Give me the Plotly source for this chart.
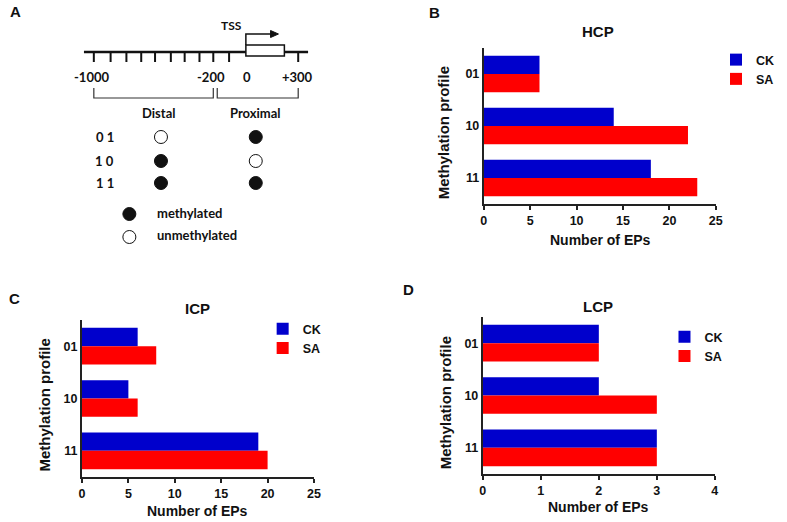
import plotly.graph_objects as go

# ---------------- data ----------------
categories = ['01', '10', '11']
hcp_ck = [6, 14, 18]
hcp_sa = [6, 22, 23]
icp_ck = [6, 5, 19]
icp_sa = [8, 6, 20]
lcp_ck = [2, 2, 3]
lcp_sa = [2, 3, 3]
ticks_25 = [0, 5, 10, 15, 20, 25]
ticks_4 = [0, 1, 2, 3, 4]
series_names = ['CK', 'SA']
series_colors = ['#0000CC', '#FF0000']

# panel A diagram content
profile_labels = ['0 1', '1 0', '1 1']
distal_state = [0, 1, 1]
proximal_state = [1, 0, 1]
position_labels = ['-1000', '-200', '0', '+300']
state_labels = ['methylated', 'unmethylated']

W, H = 787, 522
BAR_FONT = 'Liberation Sans'
DIA_FONT = 'Lato'


def px(x):
    return x / W


def py(y):
    return 1 - y / H


fig = go.Figure()

panels = [
    dict(ck=hcp_ck, sa=hcp_sa, xa='x', ya='y', leg='legend', title='HCP',
         xd=[487, 722], yd=[48, 204], rng=[0, 25], ticks=ticks_25,
         tpos=(603, 32), xt=(605, 240), yt=(447, 133), leg_pos=(787, 45, 'right')),
    dict(ck=icp_ck, sa=icp_sa, xa='x2', ya='y2', leg='legend2', title='ICP',
         xd=[80, 315], yd=[320, 477], rng=[0, 25], ticks=ticks_25,
         tpos=(197, 308), xt=(197, 511), yt=(42, 405), leg_pos=(263, 314, 'left')),
    dict(ck=lcp_ck, sa=lcp_sa, xa='x3', ya='y3', leg='legend3', title='LCP',
         xd=[486, 721], yd=[317, 474], rng=[0, 4], ticks=ticks_4,
         tpos=(603, 306), xt=(603, 507), yt=(448, 403), leg_pos=(670, 322, 'left')),
]

annotations = []
layout_axes = {}


def note(text, x, y, ref='paper', size=14, family=BAR_FONT, xanchor='center', angle=0):
    if ref == 'paper':
        xx, yy, xr, yr = px(x), py(y), 'paper', 'paper'
    else:
        xx, yy, xr, yr = x, y, 'x4', 'y4'
    annotations.append(dict(text=text, x=xx, y=yy, xref=xr, yref=yr, showarrow=False,
                            xanchor=xanchor, yanchor='middle', textangle=angle,
                            font=dict(family=family, size=size, color='#111', weight='bold')))


for i, p in enumerate(panels):
    for name, vals, col in zip(series_names, [p['ck'], p['sa']], series_colors):
        fig.add_trace(go.Bar(
            y=categories, x=vals, orientation='h', name=name,
            marker=dict(color=col, line=dict(width=0)),
            xaxis=p['xa'], yaxis=p['ya'], legend=p['leg'],
        ))
    sfx = '' if i == 0 else str(i + 1)
    layout_axes['xaxis' + sfx] = dict(
        domain=[px(p['xd'][0]), px(p['xd'][1])], range=p['rng'],
        tickvals=p['ticks'], ticks='outside', ticklen=4, tickwidth=1.5,
        tickcolor='#222', showline=True, linewidth=2, linecolor='#222',
        showgrid=False, zeroline=False, anchor=p['ya'],
        tickfont=dict(family=BAR_FONT, size=12.5, color='#111', weight='bold'),
        fixedrange=True,
    )
    layout_axes['yaxis' + sfx] = dict(
        domain=[py(p['yd'][1]), py(p['yd'][0])], type='category',
        categoryorder='array', categoryarray=categories, range=[2.5, -0.5],
        showline=True, linewidth=2, linecolor='#222', ticks='',
        showgrid=False, zeroline=False, anchor=p['xa'],
        tickfont=dict(family=BAR_FONT, size=12.5, color='#111', weight='bold'),
        fixedrange=True,
    )
    lx, ly, lanchor = p['leg_pos']
    layout_axes[p['leg']] = dict(
        x=px(lx), y=py(ly), xanchor=lanchor, yanchor='top',
        bgcolor='rgba(0,0,0,0)', font=dict(family=BAR_FONT, size=12.5, color='#111', weight='bold'),
        itemwidth=30, tracegroupgap=0,
    )
    note(p['title'], *p['tpos'], size=15)
    note('Number of EPs', *p['xt'], size=14)
    note('Methylation profile', *p['yt'], size=15, angle=-90)

# panel letters
for letter, (lx, ly) in zip('ABCD', [(13, 12), (437, 13), (12, 298), (411, 289)]):
    note(letter, lx, ly, size=15)

# ---------------- panel A diagram (pixel-space hidden axis) ----------------
layout_axes['xaxis4'] = dict(domain=[0, 1], range=[0, W], visible=False, fixedrange=True,
                             anchor='y4')
layout_axes['yaxis4'] = dict(domain=[0, 1], range=[H, 0], visible=False, fixedrange=True,
                             anchor='x4')

shapes = []
line_y = 52
shapes.append(dict(type='line', xref='x4', yref='y4', x0=82, x1=309, y0=line_y, y1=line_y,
                   line=dict(color='#111', width=2.5)))
for tx in [92, 109, 125, 140, 154, 170, 184, 199, 213, 229, 299]:
    shapes.append(dict(type='line', xref='x4', yref='y4', x0=tx, x1=tx, y0=line_y, y1=62,
                       line=dict(color='#111', width=2)))
shapes.append(dict(type='rect', xref='x4', yref='y4', x0=246, x1=285, y0=45, y1=56,
                   fillcolor='white', line=dict(color='#111', width=1.5)))
shapes.append(dict(type='path', xref='x4', yref='y4', path='M 246 45 V 34 H 272',
                   line=dict(color='#111', width=1.5)))
shapes.append(dict(type='path', xref='x4', yref='y4', path='M 271 30.5 L 279 34 L 271 37.5 Z',
                   fillcolor='#111', line=dict(color='#111', width=1)))
shapes.append(dict(type='path', xref='x4', yref='y4', path='M 92 88 V 98 H 213 V 88',
                   line=dict(color='#333', width=1.2)))
shapes.append(dict(type='path', xref='x4', yref='y4', path='M 217 88 V 98 H 299 V 88',
                   line=dict(color='#333', width=1.2)))

note('TSS', 231, 25, ref='x4', size=12, family=DIA_FONT)
for lab, lx in zip(position_labels, [90, 211, 247, 298]):
    note(lab, lx, 77, ref='x4', size=13, family=DIA_FONT)
note('Distal', 158, 113, ref='x4', size=13, family=DIA_FONT)
note('Proximal', 256, 113, ref='x4', size=13, family=DIA_FONT)
row_y = [137, 161, 183]
for lab, ry in zip(profile_labels, row_y):
    note(lab, 103, ry, ref='x4', size=13, family=DIA_FONT)
for lab, ry in zip(state_labels, [213, 235]):
    note(lab, 154, ry, ref='x4', size=13, family=DIA_FONT, xanchor='left')


def fill(states):
    return ['#111' if s else 'white' for s in states]


fig.add_trace(go.Scatter(
    x=[160] * 3 + [256] * 3, y=row_y + row_y, mode='markers', showlegend=False,
    marker=dict(size=13, color=fill(distal_state) + fill(proximal_state),
                line=dict(color='#111', width=1)),
    xaxis='x4', yaxis='y4', hoverinfo='skip',
))
fig.add_trace(go.Scatter(
    x=[128, 128], y=[214, 237], mode='markers', showlegend=False,
    marker=dict(size=13, color=fill([1, 0]), line=dict(color='#111', width=1)),
    xaxis='x4', yaxis='y4', hoverinfo='skip',
))

fig.update_layout(
    width=W, height=H, margin=dict(l=0, r=0, t=0, b=0),
    paper_bgcolor='white', plot_bgcolor='rgba(0,0,0,0)',
    barmode='group', bargap=0.3, bargroupgap=0,
    annotations=annotations, shapes=shapes, **layout_axes,
)

fig.write_html('out.html', config={'displayModeBar': False},
               post_script="document.body.style.margin='0';document.body.style.overflow='hidden';")
